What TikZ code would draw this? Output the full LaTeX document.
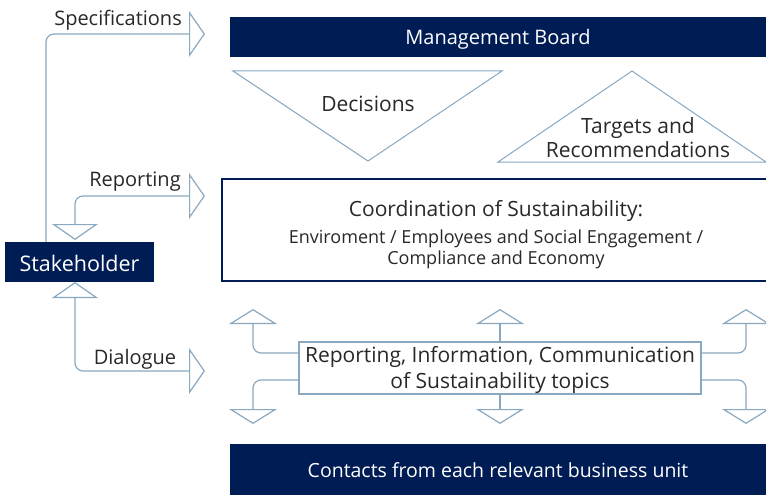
\documentclass[tikz,border=0pt]{standalone}
\usepackage{fontspec}
\setmainfont{Open Sans}
\usetikzlibrary{arrows.meta}
\definecolor{navy}{RGB}{0,28,84}
\definecolor{steel}{RGB}{138,168,192}
\definecolor{txt}{RGB}{40,40,40}
\newcommand{\lowertext}[2]{\raisebox{-#1}[\height][\depth]{#2}}
\tikzset{
  openhead/.tip={Triangle[open, width=46pt, length=16pt, line width=1.2pt]},
  navybar/.style={fill=navy, text=white, inner sep=0pt, font=\fontsize{20}{23}\selectfont},
  conn/.style={draw=steel, line width=1.2pt, rounded corners=8pt},
  tri/.style={draw=steel, line width=1pt},
  lbl/.style={text=txt, inner sep=0pt, font=\fontsize{20}{23}\selectfont},
  bigtxt/.style={text=txt, inner sep=0pt, align=center, font=\fontsize{21}{24}\selectfont},
  smalltxt/.style={text=txt, inner sep=0pt, align=center, font=\fontsize{18}{21}\selectfont},
}
\begin{document}
\begin{tikzpicture}[x=1pt,y=-1pt]
\useasboundingbox (0,0) rectangle (766,495);
% bars
\node[navybar, minimum width=536pt, minimum height=40pt] (mgmt) at (498,37) {\lowertext{2.5pt}{Management Board}};
\node[navybar, minimum width=536pt, minimum height=51pt, font=\fontsize{19.5}{23}\selectfont] (contacts) at (498,469.5) {\lowertext{1pt}{Contacts from each relevant business unit}};
\node[navybar, minimum width=149pt, minimum height=40pt, font=\fontsize{21.5}{24}\selectfont] (stake) at (79.5,262) {\lowertext{1pt}{Stakeholder}};
% coordination box
\node[draw=navy, line width=2.2pt, minimum width=548pt, minimum height=102pt, inner sep=0pt] (coord) at (496,230) {};
\node[bigtxt] (coordT) at (496,210.5) {Coordination of Sustainability:};
\node[smalltxt] (coordS) at (496,249.5) {Enviroment / Employees and Social Engagement /\\Compliance and Economy};
% triangles
\coordinate (dA) at (233,71); \coordinate (dB) at (502,71); \coordinate (dC) at (368,161);
\draw[tri] (dA) -- (dB) -- (dC) -- cycle;
\node[bigtxt] (dec) at (368,104) {Decisions};
\coordinate (tA) at (632,71); \coordinate (tB) at (498,162); \coordinate (tC) at (766,162);
\draw[tri] (tA) -- (tB) -- (tC) -- cycle;
\node[bigtxt] (targ) at (638,138) {Targets and\\Recommendations};
% reporting info box
\node[draw=steel, line width=1.2pt, minimum width=402pt, minimum height=52pt, inner sep=0pt, text=txt, font=\fontsize{21}{26}\selectfont] (rib) at (500,368) {\lowertext{2pt}{\parbox{400pt}{\centering Reporting, Information, Communication\\of Sustainability topics}}};
% left connectors
\coordinate (specTip) at (205,34);
\coordinate (repTip) at (205,196);
\coordinate (dialTip) at (205,371);
\coordinate (repDown) at (75,240);
\coordinate (dialUp) at (75,282);
\draw[conn, -{openhead}] (stake.north -| 46,0) |- (specTip);
\draw[conn, {openhead}-{openhead}] (repDown) |- (repTip);
\draw[conn, {openhead}-{openhead}] (dialUp) |- (dialTip);
\node[lbl, anchor=east] (specL) at (182,20) {Specifications};
\node[lbl] (repL) at (135,182) {Reporting};
\node[lbl] (dialL) at (135,359) {Dialogue};
% box arrows
\coordinate (luTip) at (253,309); \coordinate (ldTip) at (253,424);
\coordinate (muTip) at (500,309); \coordinate (mdTip) at (500,424);
\coordinate (ruTip) at (746,309); \coordinate (rdTip) at (746,424);
\tikzset{bh/.tip={Triangle[open, width=48pt, length=15pt, line width=1.2pt]}}
\draw[conn, -{bh}] (rib.west |- 0,353) -| (luTip);
\draw[conn, -{bh}] (rib.west |- 0,380) -| (ldTip);
\draw[conn, -{bh}] (rib.north) -- (muTip);
\draw[conn, -{bh}] (rib.south) -- (mdTip);
\draw[conn, -{bh}] (rib.east |- 0,353) -| (ruTip);
\draw[conn, -{bh}] (rib.east |- 0,380) -| (rdTip);
\end{tikzpicture}
\end{document}
